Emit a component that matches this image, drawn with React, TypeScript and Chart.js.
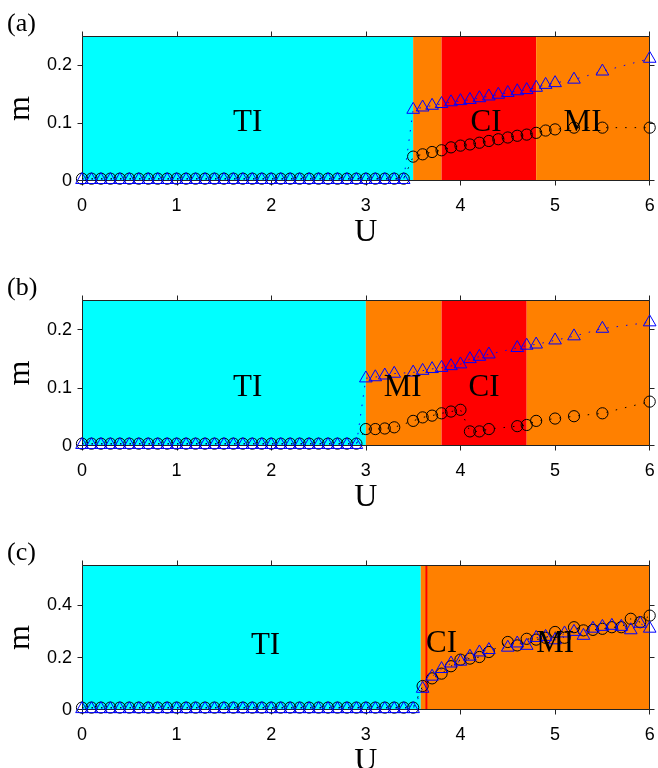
import React, { useEffect, useRef } from 'react';
import { Chart, registerables } from 'chart.js';

Chart.register(...registerables);

// ---------- data ----------
const X_TICKS = [0, 1, 2, 3, 4, 5, 6];
const X_TICK_LABELS = ['0', '1', '2', '3', '4', '5', '6'];
const Y_TICKS_AB = [0, 0.1, 0.2];
const Y_TICK_LABELS_AB = ['0', '0.1', '0.2'];
const Y_TICKS_C = [0, 0.2, 0.4];
const Y_TICK_LABELS_C = ['0', '0.2', '0.4'];

// panel (a)
const U_A = [0, 0.1, 0.2, 0.3, 0.4, 0.5, 0.6, 0.7, 0.8, 0.9, 1.0, 1.1, 1.2, 1.3, 1.4, 1.5, 1.6, 1.7, 1.8, 1.9,
  2.0, 2.1, 2.2, 2.3, 2.4, 2.5, 2.6, 2.7, 2.8, 2.9, 3.0, 3.1, 3.2, 3.3, 3.4,
  3.5, 3.6, 3.7, 3.8, 3.9, 4.0, 4.1, 4.2, 4.3, 4.4, 4.5, 4.6, 4.7, 4.8, 4.9, 5.0, 5.2, 5.5, 6.0];
const TRI_A = [0.002, 0.002, 0.002, 0.002, 0.002, 0.002, 0.002, 0.002, 0.002, 0.002, 0.002, 0.002, 0.002, 0.002, 0.002,
  0.002, 0.002, 0.002, 0.002, 0.002, 0.002, 0.002, 0.002, 0.002, 0.002, 0.002, 0.002, 0.002, 0.002, 0.002,
  0.002, 0.002, 0.002, 0.002, 0.002,
  0.123, 0.127, 0.130, 0.133, 0.136, 0.138, 0.140, 0.143, 0.146, 0.149, 0.152, 0.155, 0.157, 0.161, 0.166, 0.169,
  0.175, 0.189, 0.211];
const CIRC_A = [0.004, 0.004, 0.004, 0.004, 0.004, 0.004, 0.004, 0.004, 0.004, 0.004, 0.004, 0.004, 0.004, 0.004, 0.004,
  0.004, 0.004, 0.004, 0.004, 0.004, 0.004, 0.004, 0.004, 0.004, 0.004, 0.004, 0.004, 0.004, 0.004, 0.004,
  0.004, 0.004, 0.004, 0.004, 0.004,
  0.042, 0.046, 0.050, 0.053, 0.058, 0.061, 0.063, 0.066, 0.069, 0.072, 0.075, 0.078, 0.080, 0.083, 0.087, 0.089,
  0.092, 0.092, 0.092];
const REG_A_FROM = [0, 3.5, 3.8, 4.8];
const REG_A_TO = [3.5, 3.8, 4.8, 6];
const REG_A_PHASE = ['TI', 'MI', 'CI', 'MI'];
const LBL_A_TEXT = ['TI', 'CI', 'MI'];
const LBL_A_U = [1.75, 4.27, 5.29];
const LBL_A_M = [0.1, 0.1, 0.1];

// panel (b)
const U_B = [0, 0.1, 0.2, 0.3, 0.4, 0.5, 0.6, 0.7, 0.8, 0.9, 1.0, 1.1, 1.2, 1.3, 1.4, 1.5, 1.6, 1.7, 1.8, 1.9,
  2.0, 2.1, 2.2, 2.3, 2.4, 2.5, 2.6, 2.7, 2.8, 2.9,
  3.0, 3.1, 3.2, 3.3, 3.5, 3.6, 3.7, 3.8, 3.9, 4.0, 4.1, 4.2, 4.3, 4.6, 4.7, 4.8, 5.0, 5.2, 5.5, 6.0];
const TRI_B = [0.002, 0.002, 0.002, 0.002, 0.002, 0.002, 0.002, 0.002, 0.002, 0.002, 0.002, 0.002, 0.002, 0.002, 0.002,
  0.002, 0.002, 0.002, 0.002, 0.002, 0.002, 0.002, 0.002, 0.002, 0.002, 0.002, 0.002, 0.002, 0.002, 0.002,
  0.116, 0.118, 0.121, 0.124, 0.126, 0.129, 0.132, 0.134, 0.137, 0.140, 0.149, 0.153, 0.157, 0.168, 0.172, 0.174,
  0.181, 0.188, 0.201, 0.212];
const CIRC_B = [0.004, 0.004, 0.004, 0.004, 0.004, 0.004, 0.004, 0.004, 0.004, 0.004, 0.004, 0.004, 0.004, 0.004, 0.004,
  0.004, 0.004, 0.004, 0.004, 0.004, 0.004, 0.004, 0.004, 0.004, 0.004, 0.004, 0.004, 0.004, 0.004, 0.004,
  0.029, 0.029, 0.030, 0.032, 0.043, 0.049, 0.052, 0.056, 0.059, 0.062, 0.025, 0.025, 0.029, 0.034, 0.036, 0.043,
  0.047, 0.051, 0.056, 0.076];
const REG_B_FROM = [0, 3.0, 3.8, 4.7];
const REG_B_TO = [3.0, 3.8, 4.7, 6];
const REG_B_PHASE = ['TI', 'MI', 'CI', 'MI'];
const LBL_B_TEXT = ['TI', 'MI', 'CI'];
const LBL_B_U = [1.75, 3.39, 4.25];
const LBL_B_M = [0.1, 0.1, 0.1];

// panel (c)
const U_C = [0, 0.1, 0.2, 0.3, 0.4, 0.5, 0.6, 0.7, 0.8, 0.9, 1.0, 1.1, 1.2, 1.3, 1.4, 1.5, 1.6, 1.7, 1.8, 1.9,
  2.0, 2.1, 2.2, 2.3, 2.4, 2.5, 2.6, 2.7, 2.8, 2.9, 3.0, 3.1, 3.2, 3.3, 3.4, 3.5,
  3.6, 3.7, 3.8, 3.9, 4.0, 4.1, 4.2, 4.3, 4.5, 4.6, 4.7, 4.8, 4.9, 5.0, 5.1, 5.2, 5.3, 5.4, 5.5, 5.6, 5.7, 5.8, 5.9, 6.0];
const TRI_C = [0.004, 0.004, 0.004, 0.004, 0.004, 0.004, 0.004, 0.004, 0.004, 0.004, 0.004, 0.004, 0.004, 0.004, 0.004,
  0.004, 0.004, 0.004, 0.004, 0.004, 0.004, 0.004, 0.004, 0.004, 0.004, 0.004, 0.004, 0.004, 0.004, 0.004,
  0.004, 0.004, 0.004, 0.004, 0.004, 0.004,
  0.081, 0.127, 0.156, 0.177, 0.184, 0.203, 0.219, 0.228, 0.237, 0.253, 0.244, 0.274, 0.278, 0.265, 0.291, 0.297,
  0.282, 0.309, 0.316, 0.320, 0.316, 0.303, 0.328, 0.309];
const CIRC_C = [0.009, 0.009, 0.009, 0.009, 0.009, 0.009, 0.009, 0.009, 0.009, 0.009, 0.009, 0.009, 0.009, 0.009, 0.009,
  0.009, 0.009, 0.009, 0.009, 0.009, 0.009, 0.009, 0.009, 0.009, 0.009, 0.009, 0.009, 0.009, 0.009, 0.009,
  0.009, 0.009, 0.009, 0.009, 0.009, 0.009,
  0.091, 0.120, 0.138, 0.166, 0.191, 0.195, 0.201, 0.220, 0.258, 0.245, 0.270, 0.267, 0.274, 0.296, 0.274, 0.314,
  0.302, 0.304, 0.308, 0.314, 0.314, 0.346, 0.333, 0.358];
const REG_C_FROM = [0, 3.58, 3.63];
const REG_C_TO = [3.58, 6, 3.65];
const REG_C_PHASE = ['TI', 'MI', 'CI'];
const LBL_C_TEXT = ['TI', 'CI', 'MI'];
const LBL_C_U = [1.94, 3.8, 5.0];
const LBL_C_M = [0.245, 0.25, 0.25];

// ---------- styles ----------
const PHASE_COLOR: Record<string, string> = { TI: '#00FFFF', MI: '#FF8000', CI: '#FF0000' };
const SERIF = '"Liberation Serif", "Times New Roman", serif';
const SANS = '"Liberation Sans", Arial, sans-serif';
const CANVAS_W = 658;
const CANVAS_H = 256;

type Spec = {
  letter: string;
  u: number[]; tri: number[]; circ: number[];
  regFrom: number[]; regTo: number[]; regPhase: string[];
  lblText: string[]; lblU: number[]; lblM: number[];
  yMax: number; yTicks: number[]; yTickLabels: string[];
  pageTop: number; areaTop: number; areaBottom: number;
};

const PANELS: Spec[] = [
  { letter: '(a)', u: U_A, tri: TRI_A, circ: CIRC_A, regFrom: REG_A_FROM, regTo: REG_A_TO, regPhase: REG_A_PHASE,
    lblText: LBL_A_TEXT, lblU: LBL_A_U, lblM: LBL_A_M, yMax: 0.25, yTicks: Y_TICKS_AB, yTickLabels: Y_TICK_LABELS_AB,
    pageTop: 0, areaTop: 36, areaBottom: 181 },
  { letter: '(b)', u: U_B, tri: TRI_B, circ: CIRC_B, regFrom: REG_B_FROM, regTo: REG_B_TO, regPhase: REG_B_PHASE,
    lblText: LBL_B_TEXT, lblU: LBL_B_U, lblM: LBL_B_M, yMax: 0.25, yTicks: Y_TICKS_AB, yTickLabels: Y_TICK_LABELS_AB,
    pageTop: 256, areaTop: 44, areaBottom: 190 },
  { letter: '(c)', u: U_C, tri: TRI_C, circ: CIRC_C, regFrom: REG_C_FROM, regTo: REG_C_TO, regPhase: REG_C_PHASE,
    lblText: LBL_C_TEXT, lblU: LBL_C_U, lblM: LBL_C_M, yMax: 0.55, yTicks: Y_TICKS_C, yTickLabels: Y_TICK_LABELS_C,
    pageTop: 512, areaTop: 53, areaBottom: 198 },
];

const decorPlugin = {
  id: 'decor',
  beforeDatasetsDraw(chart: any, _args: any, opts: any) {
    const spec: Spec = opts.spec;
    const { ctx, chartArea: a } = chart;
    const xs = chart.scales.x, ys = chart.scales.y;
    ctx.save();
    // phase regions
    spec.regFrom.forEach((f, i) => {
      const x0 = xs.getPixelForValue(f);
      const x1 = xs.getPixelForValue(spec.regTo[i]);
      ctx.fillStyle = PHASE_COLOR[spec.regPhase[i]];
      ctx.fillRect(x0, a.top, x1 - x0, a.bottom - a.top);
    });
    // box
    ctx.strokeStyle = '#222';
    ctx.lineWidth = 1;
    const L = Math.round(a.left) + 0.5, R = Math.round(a.right) - 0.5;
    const T = Math.round(a.top) + 0.5, B = Math.round(a.bottom) - 0.5;
    ctx.beginPath();
    ctx.moveTo(L, T); ctx.lineTo(R, T); ctx.lineTo(R, B); ctx.lineTo(L, B); ctx.closePath();
    ctx.stroke();
    // ticks (outward)
    ctx.beginPath();
    X_TICKS.forEach((v) => {
      const px = Math.min(Math.round(xs.getPixelForValue(v)) + 0.5, R);
      ctx.moveTo(px, B); ctx.lineTo(px, B + 5);
      ctx.moveTo(px, T); ctx.lineTo(px, T - 5);
    });
    spec.yTicks.forEach((v) => {
      const py = Math.min(Math.round(ys.getPixelForValue(v)) + 0.5, B);
      ctx.moveTo(L, py); ctx.lineTo(L - 5, py);
      ctx.moveTo(R, py); ctx.lineTo(R + 5, py);
    });
    ctx.stroke();
    // tick labels
    ctx.fillStyle = '#000';
    ctx.font = `18px ${SANS}`;
    ctx.textAlign = 'center';
    ctx.textBaseline = 'alphabetic';
    X_TICKS.forEach((v, i) => {
      ctx.fillText(X_TICK_LABELS[i], xs.getPixelForValue(v), a.bottom + 30);
    });
    ctx.textAlign = 'right';
    ctx.textBaseline = 'middle';
    spec.yTicks.forEach((v, i) => {
      ctx.fillText(spec.yTickLabels[i], a.left - 10, ys.getPixelForValue(v) + 0.5);
    });
    // axis titles
    ctx.font = `32px ${SERIF}`;
    ctx.textAlign = 'center';
    ctx.textBaseline = 'alphabetic';
    ctx.fillText('U', (a.left + a.right) / 2, a.bottom + 60);
    ctx.save();
    ctx.translate(21, (a.top + a.bottom) / 2);
    ctx.rotate(-Math.PI / 2);
    ctx.textBaseline = 'middle';
    ctx.fillText('m', 0, 0);
    ctx.restore();
    // panel letter
    ctx.font = `26px ${SERIF}`;
    ctx.textAlign = 'left';
    ctx.textBaseline = 'alphabetic';
    ctx.fillText(spec.letter, 7, a.top - 5);
    ctx.restore();
  },
  afterDatasetsDraw(chart: any, _args: any, opts: any) {
    const spec: Spec = opts.spec;
    const { ctx } = chart;
    const xs = chart.scales.x, ys = chart.scales.y;
    ctx.save();
    ctx.fillStyle = '#000';
    ctx.font = `31px ${SERIF}`;
    ctx.textAlign = 'center';
    ctx.textBaseline = 'middle';
    spec.lblText.forEach((t, i) => {
      ctx.fillText(t, xs.getPixelForValue(spec.lblU[i]), ys.getPixelForValue(spec.lblM[i]));
    });
    ctx.restore();
  },
};

function Panel({ spec }: { spec: Spec }) {
  const ref = useRef<HTMLCanvasElement | null>(null);
  useEffect(() => {
    if (!ref.current) return;
    const chart = new Chart(ref.current, {
      type: 'line',
      data: {
        datasets: [
          {
            data: spec.u.map((u, i) => ({ x: u, y: spec.tri[i] })),
            showLine: true,
            borderColor: '#0000FF',
            borderWidth: 1,
            borderDash: [1.5, 8],
            pointStyle: 'triangle',
            pointRadius: 7.3,
            pointBorderColor: '#0000FF',
            pointBackgroundColor: 'rgba(0,0,0,0)',
            pointBorderWidth: 1,
            clip: false,
            order: 0,
          } as any,
          {
            data: spec.u.map((u, i) => ({ x: u, y: spec.circ[i] })),
            showLine: true,
            borderColor: '#000000',
            borderWidth: 1,
            borderDash: [1.5, 8],
            pointStyle: 'circle',
            pointRadius: 5.6,
            pointBorderColor: '#000000',
            pointBackgroundColor: 'rgba(0,0,0,0)',
            pointBorderWidth: 1,
            clip: false,
            order: 1,
          } as any,
        ],
      },
      options: {
        animation: false,
        responsive: false,
        events: [],
        layout: {
          padding: { left: 82, right: CANVAS_W - 652, top: spec.areaTop, bottom: CANVAS_H - spec.areaBottom },
        },
        scales: {
          x: { type: 'linear', min: 0, max: 6, display: false },
          y: { type: 'linear', min: 0, max: spec.yMax, display: false },
        },
        plugins: {
          legend: { display: false },
          tooltip: { enabled: false },
          decor: { spec },
        } as any,
      },
      plugins: [decorPlugin],
    });
    return () => chart.destroy();
  }, [spec]);
  return (
    <canvas
      ref={ref}
      width={CANVAS_W}
      height={CANVAS_H}
      style={{ position: 'absolute', left: 0, top: spec.pageTop, width: CANVAS_W, height: CANVAS_H }}
    />
  );
}

export default function App() {
  return (
    <div style={{ position: 'fixed', left: 0, top: 0, width: CANVAS_W, height: 768, background: '#fff', overflow: 'hidden' }}>
      {PANELS.map((p) => (
        <Panel key={p.letter} spec={p} />
      ))}
    </div>
  );
}
